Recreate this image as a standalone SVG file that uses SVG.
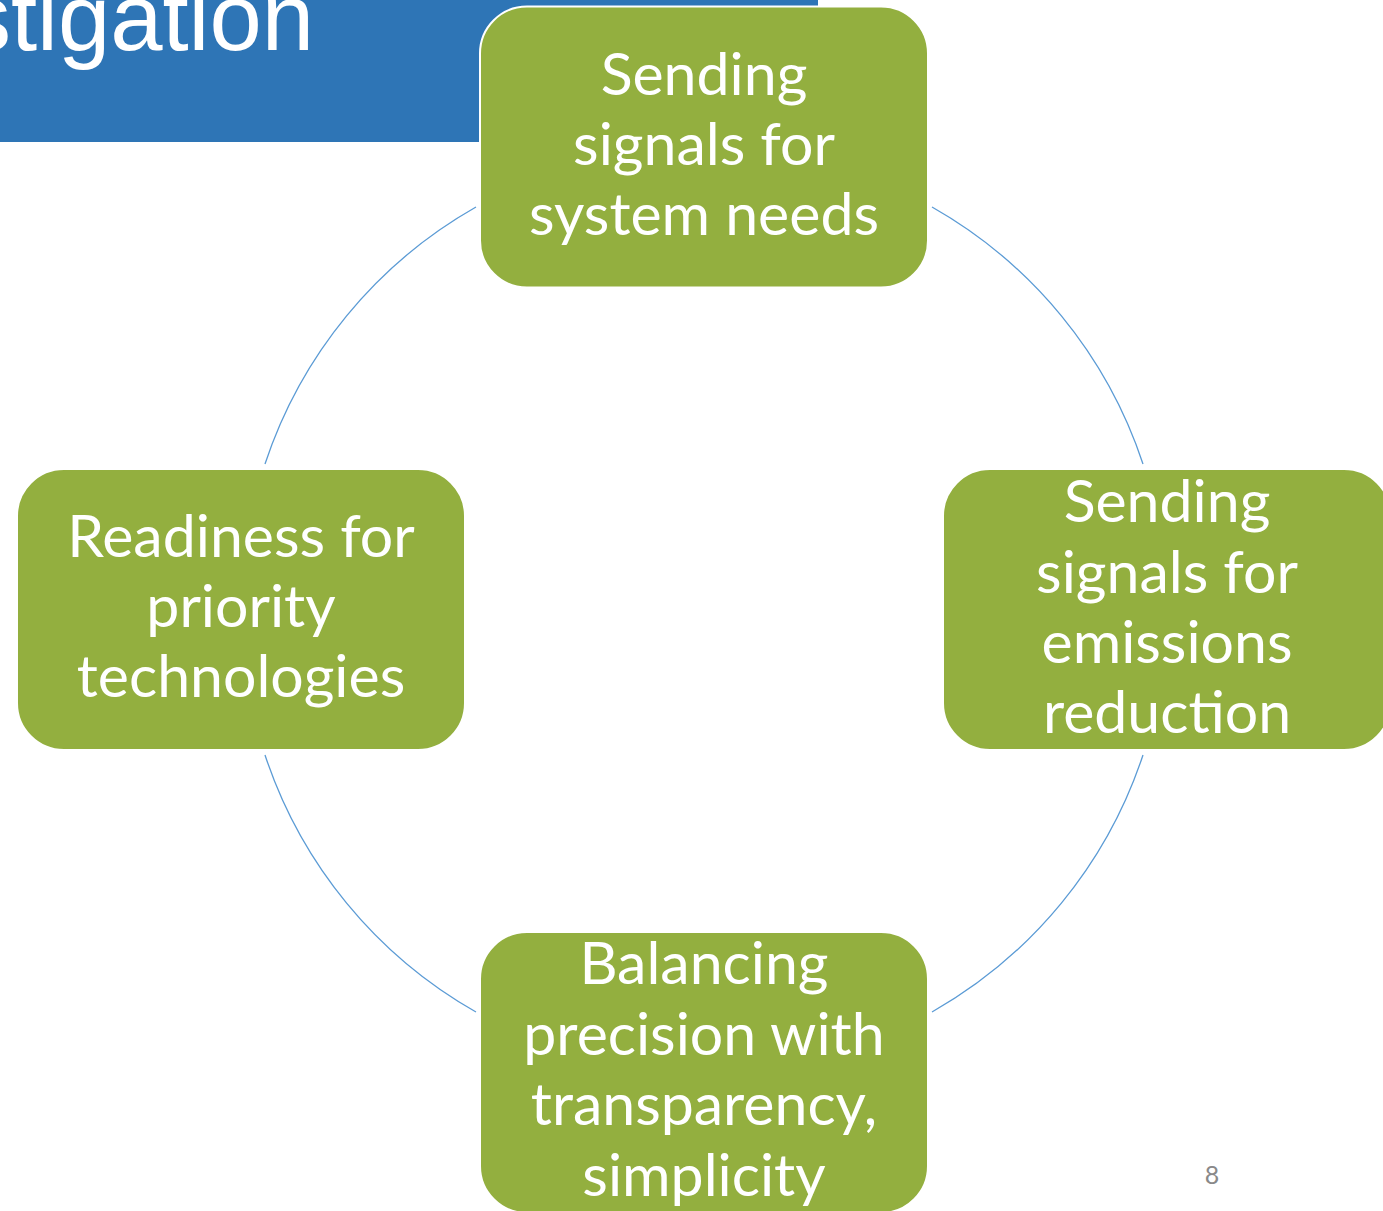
<svg xmlns="http://www.w3.org/2000/svg" width="1383" height="1211" viewBox="0 0 1383 1211">
  <style>
    .title { font-family: "Liberation Sans", Arial, sans-serif; font-size: 94px; fill: #ffffff; }
    .box { fill: #93AF3F; stroke: #ffffff; stroke-width: 2; }
    .label { font-family: Lato, "Open Sans", sans-serif; font-size: 59px; fill: #ffffff; text-anchor: middle; }
    .arc { fill: none; stroke: #5B9BD5; stroke-width: 1.3; }
    .pagenum { font-family: Lato, "Open Sans", sans-serif; font-size: 25px; fill: #898989; text-anchor: middle; }
  </style>

  <rect width="1383" height="1211" fill="#ffffff"/>

  <!-- title banner, word runs off the left edge -->
  <g id="title">
    <rect x="0" y="0" width="818" height="142" fill="#2E75B6"/>
    <text class="title" x="314" y="50" text-anchor="end">stigation</text>
  </g>

  <!-- cycle arcs (circle centre 704,609.5 r 462.5) -->
  <g id="connectors">
    <path class="arc" d="M 265 464 A 462.5 462.5 0 0 1 476 207"/>
    <path class="arc" d="M 932 207 A 462.5 462.5 0 0 1 1143 464"/>
    <path class="arc" d="M 1143 755 A 462.5 462.5 0 0 1 932 1012"/>
    <path class="arc" d="M 476 1012 A 462.5 462.5 0 0 1 265 755"/>
  </g>

  <g id="node-system-needs">
    <rect class="box" x="480" y="6.5" width="448" height="281" rx="47"/>
    <text class="label" x="704" y="95">Sending</text>
    <text class="label" x="704" y="165">signals for</text>
    <text class="label" x="704" y="235">system needs</text>
  </g>

  <g id="node-emissions">
    <rect class="box" x="943" y="469" width="448" height="281" rx="47"/>
    <text class="label" x="1167" y="522">Sending</text>
    <text class="label" x="1167" y="593">signals for</text>
    <text class="label" x="1167" y="663">emissions</text>
    <text class="label" x="1167" y="733">reduction</text>
  </g>

  <g id="node-balancing">
    <rect class="box" x="480" y="932" width="448" height="281" rx="47"/>
    <text class="label" x="704" y="984">Balancing</text>
    <text class="label" x="704" y="1055">precision with</text>
    <text class="label" x="704" y="1125">transparency,</text>
    <text class="label" x="704" y="1196">simplicity</text>
  </g>

  <g id="node-readiness">
    <rect class="box" x="17" y="469" width="448" height="281" rx="47"/>
    <text class="label" x="241" y="557">Readiness for</text>
    <text class="label" x="241" y="627">priority</text>
    <text class="label" x="241" y="697">technologies</text>
  </g>

  <text class="pagenum" x="1212" y="1184">8</text>
</svg>
